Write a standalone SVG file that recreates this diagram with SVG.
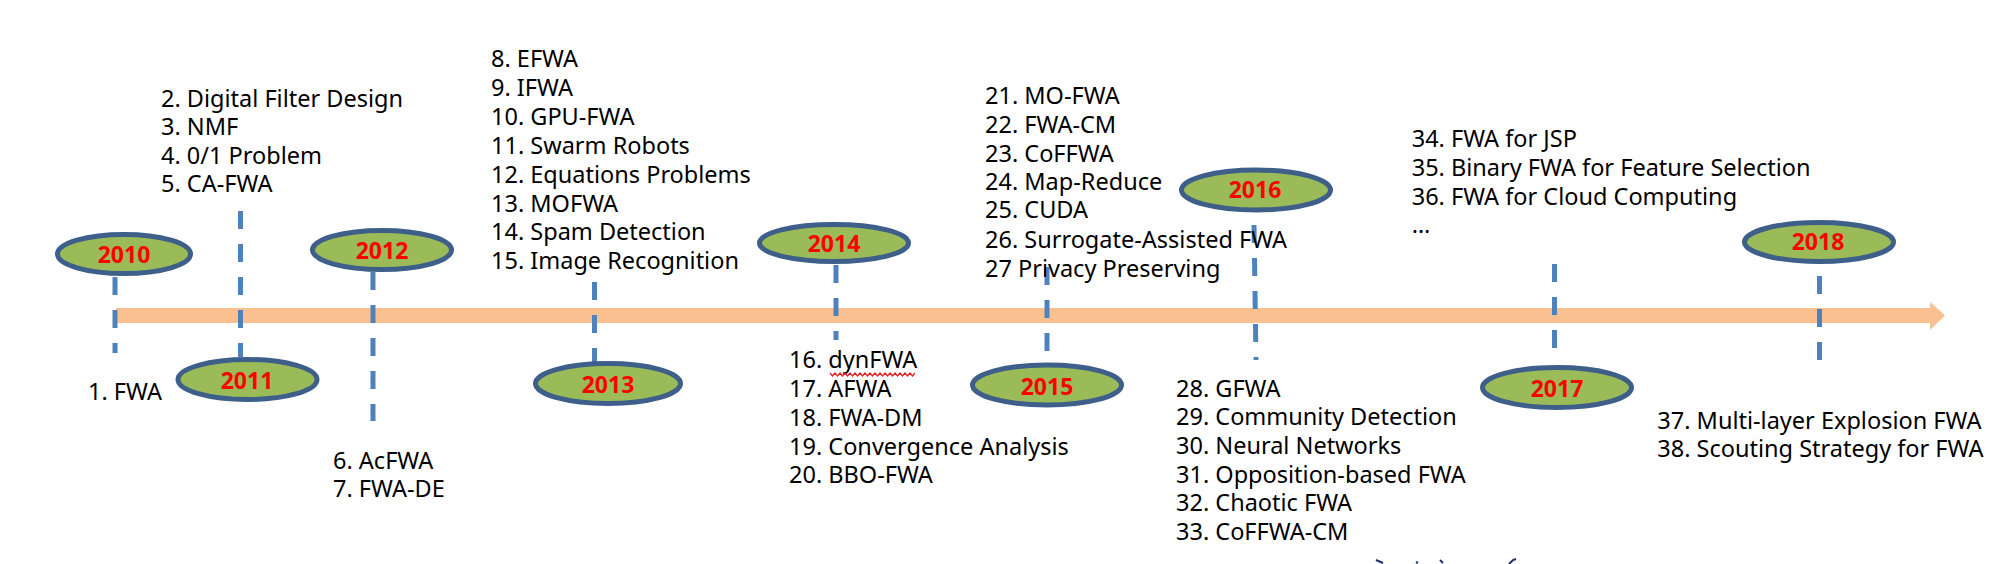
<svg xmlns="http://www.w3.org/2000/svg" width="2002" height="564" viewBox="0 0 2002 564">
<style>
  .yr ellipse { fill: #9BBB59; stroke: #3E5F8A; stroke-width: 5; }
  .yr text { font-family: "Noto Sans", "DejaVu Sans", sans-serif; font-weight: bold; font-size: 23px; fill: #FF0000; text-anchor: middle; }
  .lst { font-family: "Noto Sans", "DejaVu Sans", sans-serif; font-size: 23.5px; fill: #000000; }
  .dash { stroke: #4F81BD; stroke-width: 5; stroke-dasharray: 18 15; fill: none; }
</style>
<rect width="2002" height="564" fill="#FFFFFF"/>

<g id="timeline">
  <rect x="116" y="308" width="1815" height="15" fill="#FAC090"/>
  <polygon points="1930,302 1945,315.5 1930,330" fill="#FAC090"/>
</g>

<g id="connectors">
  <line class="dash" x1="115" y1="277" x2="115" y2="353"/>
  <line class="dash" x1="240.5" y1="211" x2="240.5" y2="357"/>
  <line class="dash" x1="373" y1="272" x2="373" y2="421"/>
  <line class="dash" x1="594.5" y1="282" x2="594.5" y2="362"/>
  <line class="dash" x1="836" y1="265" x2="836" y2="340"/>
  <line class="dash" x1="1047" y1="267" x2="1047" y2="353"/>
  <line class="dash" x1="1254" y1="225" x2="1256" y2="360"/>
  <line class="dash" x1="1554.5" y1="264" x2="1554.5" y2="349"/>
  <line class="dash" x1="1819.5" y1="276" x2="1819.5" y2="361"/>
</g>

<g id="y2010" class="yr"><ellipse cx="124" cy="254" rx="66.5" ry="19.5"/><text x="124" y="263">2010</text></g>
<g id="y2011" class="yr"><ellipse cx="247.5" cy="379.5" rx="69.5" ry="20"/><text x="247" y="389">2011</text></g>
<g id="y2012" class="yr"><ellipse cx="382" cy="250" rx="69.5" ry="19.5"/><text x="382" y="259">2012</text></g>
<g id="y2013" class="yr"><ellipse cx="608" cy="383.5" rx="72.5" ry="20"/><text x="608" y="392.5">2013</text></g>
<g id="y2014" class="yr"><ellipse cx="834" cy="243" rx="74.5" ry="18.5"/><text x="834" y="252">2014</text></g>
<g id="y2015" class="yr"><ellipse cx="1047" cy="385" rx="74.5" ry="20"/><text x="1047" y="394.5">2015</text></g>
<g id="y2016" class="yr"><ellipse cx="1256" cy="190" rx="74.5" ry="20"/><text x="1255" y="197.5">2016</text></g>
<g id="y2017" class="yr"><ellipse cx="1557" cy="387.5" rx="74.5" ry="20"/><text x="1557" y="396.5">2017</text></g>
<g id="y2018" class="yr"><ellipse cx="1819" cy="242" rx="74.5" ry="19.5"/><text x="1818" y="250">2018</text></g>

<g id="list2010"><text class="lst" x="88" y="400">1. FWA</text></g>
<g id="list2011">
  <text class="lst" x="161" y="106.7">2. Digital Filter Design</text>
  <text class="lst" x="161" y="135.2">3. NMF</text>
  <text class="lst" x="161" y="164">4. 0/1 Problem</text>
  <text class="lst" x="161" y="192.3">5. CA-FWA</text>
</g>
<g id="list2012">
  <text class="lst" x="333" y="469">6. AcFWA</text>
  <text class="lst" x="333" y="497">7. FWA-DE</text>
</g>
<g id="list2013">
  <text class="lst" x="491" y="67.3">8. EFWA</text>
  <text class="lst" x="491" y="96">9. IFWA</text>
  <text class="lst" x="491" y="125.3">10. GPU-FWA</text>
  <text class="lst" x="491" y="154">11. Swarm Robots</text>
  <text class="lst" x="491" y="182.7">12. Equations Problems</text>
  <text class="lst" x="491" y="211.7">13. MOFWA</text>
  <text class="lst" x="491" y="240.3">14. Spam Detection</text>
  <text class="lst" x="491" y="269.3">15. Image Recognition</text>
</g>
<g id="list2014">
  <text class="lst" x="789" y="368">16. dynFWA</text>
  <path d="M830 373 l2.5 3 l2.5 -3 l2.5 3 l2.5 -3 l2.5 3 l2.5 -3 l2.5 3 l2.5 -3 l2.5 3 l2.5 -3 l2.5 3 l2.5 -3 l2.5 3 l2.5 -3 l2.5 3 l2.5 -3 l2.5 3 l2.5 -3 l2.5 3 l2.5 -3 l2.5 3 l2.5 -3 l2.5 3 l2.5 -3 l2.5 3 l2.5 -3 l2.5 3 l2.5 -3 l2.5 3 l2.5 -3 l2.5 3 l2.5 -3 l2.5 3 l2.5 -3" fill="none" stroke="#E02020" stroke-width="1.3"/>
  <text class="lst" x="789" y="397">17. AFWA</text>
  <text class="lst" x="789" y="426">18. FWA-DM</text>
  <text class="lst" x="789" y="455">19. Convergence Analysis</text>
  <text class="lst" x="789" y="483.3">20. BBO-FWA</text>
</g>
<g id="list2015">
  <text class="lst" x="985" y="104">21. MO-FWA</text>
  <text class="lst" x="985" y="132.7">22. FWA-CM</text>
  <text class="lst" x="985" y="161.7">23. CoFFWA</text>
  <text class="lst" x="985" y="190">24. Map-Reduce</text>
  <text class="lst" x="985" y="218.3">25. CUDA</text>
  <text class="lst" x="985" y="248">26. Surrogate-Assisted FWA</text>
  <text class="lst" x="985" y="276.7">27 Privacy Preserving</text>
</g>
<g id="list2016">
  <text class="lst" x="1176" y="396.7">28. GFWA</text>
  <text class="lst" x="1176" y="425">29. Community Detection</text>
  <text class="lst" x="1176" y="454">30. Neural Networks</text>
  <text class="lst" x="1176" y="482.7">31. Opposition-based FWA</text>
  <text class="lst" x="1176" y="510.7">32. Chaotic FWA</text>
  <text class="lst" x="1176" y="540">33. CoFFWA-CM</text>
</g>
<g id="list2017">
  <text class="lst" x="1411.7" y="147.3">34. FWA for JSP</text>
  <text class="lst" x="1411.7" y="175.7">35. Binary FWA for Feature Selection</text>
  <text class="lst" x="1411.7" y="205">36. FWA for Cloud Computing</text>
  <text class="lst" x="1411.7" y="233.3">…</text>
</g>
<g id="list2018">
  <text class="lst" x="1657.3" y="429.3">37. Multi-layer Explosion FWA</text>
  <text class="lst" x="1657.3" y="457.3">38. Scouting Strategy for FWA</text>
</g>

<g id="fragments" fill="none" stroke="#1F2F6B" stroke-width="2">
  <path d="M1376 560 l7 3"/>
  <path d="M1416 562 l2 1"/>
  <path d="M1440 560 l3 3"/>
  <path d="M1509 564 l4 -4 l3 -1"/>
</g>
</svg>
